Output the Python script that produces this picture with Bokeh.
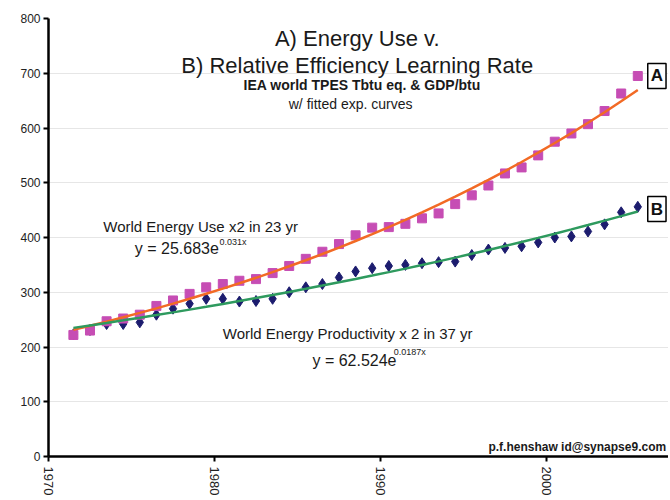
import numpy as np
from bokeh.plotting import figure
from bokeh.models import Label, FixedTicker, SingleIntervalTicker, Range1d
from bokeh.embed import file_html
from bokeh.resources import INLINE

# ---- data ----
years = list(range(1971, 2006))
energy_use = [222, 230, 247, 252, 259, 275, 285, 297, 309, 315,
              321, 324, 335, 348, 361, 374, 388, 404, 418, 419,
              425, 435, 444, 461, 477, 495, 517, 528, 550, 575,
              590, 607, 631, 663, 695]
productivity = [223, 231, 242, 242, 245, 259, 270, 279, 288, 288,
                283, 284, 288, 300, 309, 315, 327, 338, 344, 348,
                350, 353, 355, 356, 368, 378, 381, 384, 391, 400,
                402, 411, 424, 446, 456]
x_ticks = [1970, 1980, 1990, 2000]

title1 = "A) Energy Use v."
title2 = "B) Relative Efficiency Learning Rate"
subtitle1 = "IEA world TPES Tbtu eq. & GDP/btu"
subtitle2 = "w/ fitted exp. curves"
note_a = "World Energy Use x2 in 23 yr"
eq_a, eq_a_exp = "y = 25.683e", "0.031x"
note_b = "World Energy Productivity  x 2 in 37 yr"
eq_b, eq_b_exp = "y = 62.524e", "0.0187x"
credit = "p.f.henshaw id@synapse9.com"

# values plotted at mid-year
xpos = np.array(years) + 0.5
idx = np.arange(1, len(years) + 1)

def exp_fit(vals):
    b, ln_a = np.polyfit(idx, np.log(np.array(vals, dtype=float)), 1)
    return np.exp(ln_a + b * idx)

trend_a = exp_fit(energy_use)
trend_b = exp_fit(productivity)

FONT = "Liberation Sans"

p = figure(width=668, height=498, output_backend="svg", toolbar_location=None,
           x_range=Range1d(1970, 2007.35), y_range=Range1d(0, 800),
           min_border_left=48, min_border_right=0, min_border_top=18,
           min_border_bottom=39)
p.outline_line_color = None
p.background_fill_color = "white"

p.xgrid.grid_line_color = None
p.ygrid.grid_line_color = "#e6e6e6"
p.ygrid.grid_line_width = 1

p.yaxis.ticker = SingleIntervalTicker(interval=100)
p.xaxis.ticker = FixedTicker(ticks=x_ticks)
for ax in (p.xaxis[0], p.yaxis[0]):
    ax.axis_line_color = "black"
    ax.axis_line_width = 2.5
    ax.major_tick_line_color = "black"
    ax.major_tick_line_width = 2
    ax.major_tick_out = 5
    ax.major_tick_in = 0
    ax.minor_tick_line_color = None
    ax.major_label_text_font = FONT
    ax.major_label_text_color = "#222222"
p.yaxis.major_label_text_font_size = "12px"
p.xaxis.major_label_text_font_size = "13px"
p.xaxis.major_label_orientation = "vertical"
p.xaxis.major_label_standoff = 5
p.yaxis.major_label_standoff = 3

p.scatter(xpos, productivity, marker="diamond", size=11, color="#1c1c6e")
p.scatter(xpos, energy_use, marker="square", size=9, color="#c64db4")
p.line(xpos, trend_a, line_color="#f26a25", line_width=2.5)
p.line(xpos, trend_b, line_color="#2e9a5e", line_width=2.5)

def add_label(x, y, text, size, bold=False, align="left", color="#1a1a1a", **kw):
    p.add_layout(Label(x=x, y=y, text=text, text_font=FONT,
                       text_font_size=f"{size}px",
                       text_font_style="bold" if bold else "normal",
                       text_align=align, text_baseline="alphabetic",
                       text_color=color, **kw))

add_label(1988.6, 764, title1, 22, align="center")
add_label(1988.6, 715, title2, 22, align="center")
add_label(1988.9, 679, subtitle1, 14, bold=True, align="center")
add_label(1988.2, 643, subtitle2, 14, align="center")

add_label(1973.3, 421, note_a, 15)
add_label(1975.2, 379, eq_a, 16)
add_label(1980.3, 392, eq_a_exp, 9)
add_label(1980.5, 225, note_b, 15)
add_label(1985.9, 176, eq_b, 16)
add_label(1990.8, 190, eq_b_exp, 9)
add_label(1996.5, 17, credit, 12, bold=True)

for ypos, letter in ((695, "A"), (452, "B")):
    p.add_layout(Label(x=2006.1, y=ypos, text=letter, text_font=FONT,
                       text_font_size="17px", text_font_style="bold",
                       text_align="left", text_baseline="middle",
                       text_color="#111111",
                       border_line_color="black", border_line_width=1.5,
                       background_fill_color="white", padding=3))

open("out.html", "w").write(file_html(p, INLINE))
